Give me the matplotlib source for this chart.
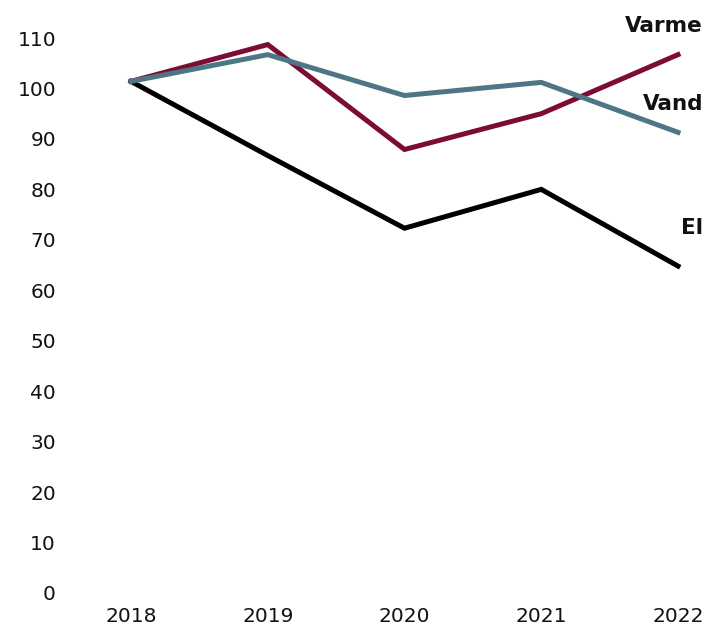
import matplotlib
matplotlib.use("Agg")
import matplotlib.pyplot as plt

years = [2018, 2019, 2020, 2021, 2022]
el = [101.4, 86.7, 72.3, 80.0, 64.8]
varme = [101.4, 108.7, 87.9, 95.0, 106.7]
vand = [101.4, 106.7, 98.6, 101.2, 91.3]
yticks = list(range(0, 111, 10))

plt.rcParams['font.family'] = ['DejaVu Sans']

fig = plt.figure(figsize=(7.18, 6.3), dpi=100)
W, H = 718, 630
ax = fig.add_axes([131 / W, (H - 593) / H, (678 - 131) / W, (593 - 38) / H])

c_varme = '#7b0d35'
c_vand = '#4d7686'
c_el = '#000000'
lw = 3.6
ax.plot(years, el, color=c_el, lw=lw, clip_on=False, solid_joinstyle='miter')
ax.plot(years, varme, color=c_varme, lw=lw, clip_on=False, solid_joinstyle='miter')
ax.plot(years, vand, color=c_vand, lw=lw, clip_on=False, solid_joinstyle='miter')

ax.set_xlim(2018, 2022)
ax.set_ylim(0, 110)
ax.set_yticks(yticks)
ax.set_xticks(years)
ax.set_xticklabels([str(y) for y in years])
for s in ax.spines.values():
    s.set_visible(False)
ax.tick_params(axis='both', length=0, labelsize=14.5, colors='#111111')
ax.tick_params(axis='y', pad=54)
ax.tick_params(axis='x', pad=10)

def lab(text, y):
    ax.annotate(text, xy=(1, y), xycoords=('axes fraction', 'data'),
                xytext=(25, 0), textcoords='offset pixels',
                ha='right', va='center', fontsize=15.5, fontweight='bold', color='#111111',
                annotation_clip=False)

lab('Varme', 112.4)
lab('Vand', 96.9)
lab('El', 72.3)

fig.savefig('out.png', dpi=100)
